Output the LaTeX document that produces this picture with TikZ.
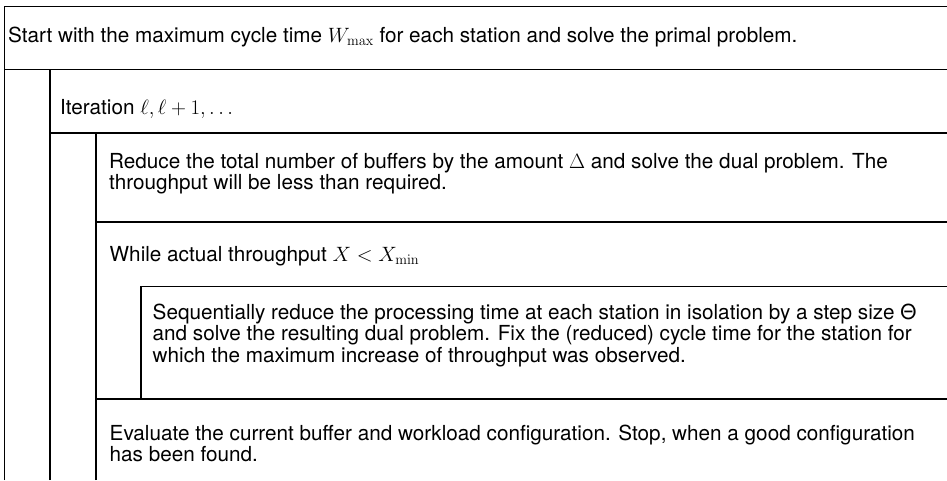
\documentclass[tikz,border=0pt]{standalone}
\usepackage[no-math]{fontspec}
\setmainfont{TeX Gyre Heros}
\begin{document}
\begin{tikzpicture}[x=1pt,y=-1pt,
  rule/.style={line width=1.1pt, black},
  txt/.style={anchor=base west, inner sep=0pt, align=left, font=\fontsize{20.7}{21.3}\selectfont}]
\useasboundingbox (0,0) rectangle (947,480);
\fill[white] (0,0) rectangle (947,480);
% structure lines
\draw[rule] (4.5,480) -- (4.5,6.5) -- (947,6.5);
\draw[rule] (4.5,69.5) -- (947,69.5);
\draw[rule] (50,480) -- (50,69.5);
\draw[rule] (50,133) -- (947,133);
\draw[rule] (96,480) -- (96,133);
\draw[rule] (96,222) -- (947,222);
\draw[rule] (141,399) -- (141,286.5) -- (947,286.5);
\draw[rule] (96,399) -- (947,399);
% texts (anchor = baseline of the last line)
\node[txt] (start) at (8,42.5) {Start with the maximum cycle time $W_{\max}$ for each station and solve the primal problem.};
\node[txt] (iter) at (60,114.5) {Iteration $\ell,\ell+1,\dots$};
\node[txt] (reduce) at (109,189.5) {Reduce the total number of buffers by the amount $\Delta$ and solve the dual problem. The\\throughput will be less than required.};
\node[txt] (while) at (109.5,261.5) {While actual throughput $X<X_{\min}$};
\node[txt] (seq) at (152.5,362) {Sequentially reduce the processing time at each station in isolation by a step size Θ\\and solve the resulting dual problem. Fix the (reduced) cycle time for the station for\\which the maximum increase of throughput was observed.};
\node[txt] (eval) at (109.5,461.3) {Evaluate the current buffer and workload configuration. Stop, when a good configuration\\has been found.};
\end{tikzpicture}
\end{document}
